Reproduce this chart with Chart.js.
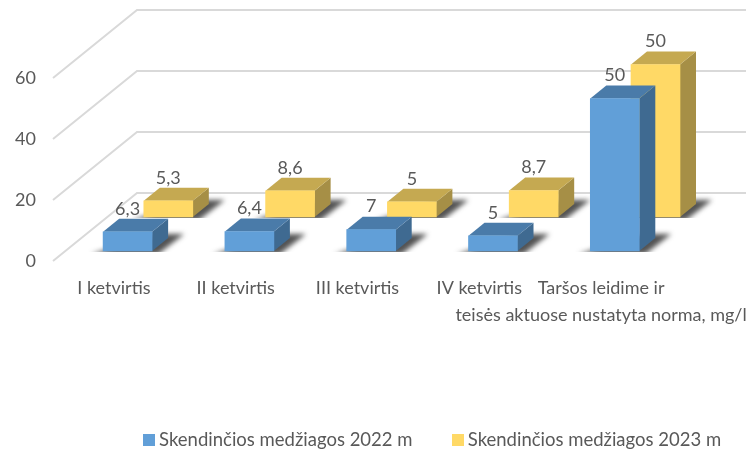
<!DOCTYPE html>
<html><head><meta charset="utf-8">
<style>html,body{margin:0;padding:0;background:#fff}#w{width:753px;height:452px}</style>
<script src="https://cdn.jsdelivr.net/npm/chart.js@4"></script></head>
<body><div id="w"><canvas id="c"></canvas></div>
<script>
const categories=["I ketvirtis","II ketvirtis","III ketvirtis","IV ketvirtis",["Taršos leidime ir","teisės aktuose nustatyta norma, mg/l"]];
const series2022=[6.3,6.4,7,5,50];
const series2023=[5.3,8.6,5,8.7,50];
const seriesNames=["Skendinčios medžiagos 2022 m","Skendinčios medžiagos 2023 m"];
const yMax=60, yStep=20;
const FONT='Lato', TXT='#595959';
// projection of the fake 3D box
const wall={dx:84,dy:-68}, barDepth={dx:16,dy:-13};
const placement=[{dx:13.7,dy:-10},{dx:54.4,dy:-44}];
const faces=[{top:'#4A7BA9',side:'#3F6A91',front:'#619FD8'},{top:'#C5A951',side:'#A68F46',front:'#FFD966'}];

function swatch(color){const k=document.createElement('canvas');k.width=12;k.height=12;const g=k.getContext('2d');g.fillStyle=color;g.fillRect(0,0,12,12);return k;}

const scene={id:'scene',
 beforeDatasetsDraw(ch){
  const {ctx,scales:{y},chartArea:a}=ch;
  ctx.save();ctx.strokeStyle='#D9D9D9';ctx.lineWidth=2;
  for(let v=0;v<=yMax;v+=yStep){const p=y.getPixelForValue(v);
   ctx.beginPath();ctx.moveTo(a.left,p);ctx.lineTo(a.left+wall.dx,p+wall.dy);ctx.lineTo(a.right+wall.dx,p+wall.dy);ctx.stroke();}
  ctx.restore();
  ch.data.datasets.forEach((d,i)=>{const o=placement[i];
   ch.getDatasetMeta(i).data.forEach(b=>{
    const l=b.x-b.width/2+o.dx,r=b.x+b.width/2+o.dx,base=y.getPixelForValue(0)+o.dy;
    ctx.save();ctx.beginPath();ctx.rect(0,0,ch.width,base+1);ctx.clip();
    ctx.filter='blur(2.5px)';ctx.fillStyle='rgba(40,40,40,0.8)';
    ctx.beginPath();ctx.moveTo(l-12,base+3);ctx.lineTo(r+6,base+3);ctx.lineTo(r+32,base-17);ctx.lineTo(r+6,base-17);ctx.closePath();ctx.fill();
    ctx.restore();
   });});
 },
 beforeDatasetDraw(ch,{index:i}){
  const {ctx}=ch,o=placement[i],f=faces[i];
  ctx.save();ctx.translate(o.dx,o.dy);
  ch.getDatasetMeta(i).data.forEach(b=>{
   const l=b.x-b.width/2,r=b.x+b.width/2,t=b.y,bt=b.base,dx=barDepth.dx,dy=barDepth.dy;
   ctx.fillStyle=f.side;ctx.beginPath();ctx.moveTo(r,t);ctx.lineTo(r+dx,t+dy);ctx.lineTo(r+dx,bt+dy);ctx.lineTo(r,bt);ctx.closePath();ctx.fill();
   ctx.fillStyle=f.top;ctx.beginPath();ctx.moveTo(l,t);ctx.lineTo(l+dx,t+dy);ctx.lineTo(r+dx,t+dy);ctx.lineTo(r,t);ctx.closePath();ctx.fill();
  });
 },
 afterDatasetDraw(ch){ch.ctx.restore();},
 afterDatasetsDraw(ch){
  const {ctx}=ch;ctx.save();ctx.font='18px '+FONT;ctx.fillStyle=TXT;ctx.textAlign='center';ctx.textBaseline='middle';
  ch.data.datasets.forEach((d,i)=>{const o=placement[i];
   ch.getDatasetMeta(i).data.forEach((b,j)=>{
    ctx.fillText(String(d.data[j]).replace('.',','),b.x+o.dx,b.y+o.dy-23);});});
  ctx.restore();
 }};

new Chart(document.getElementById('c'),{type:'bar',
 data:{labels:categories,datasets:[
  {label:seriesNames[0],data:series2022,backgroundColor:faces[0].front,order:1,clip:false},
  {label:seriesNames[1],data:series2023,backgroundColor:faces[1].front,order:2,clip:false}]},
 options:{responsive:true,maintainAspectRatio:false,animation:false,
  layout:{padding:{top:78,left:0,right:-117,bottom:-7}},
  datasets:{bar:{grouped:false,barThickness:49}},
  plugins:{tooltip:{enabled:false},
   legend:{position:'bottom',labels:{usePointStyle:true,pointStyleWidth:1,boxHeight:12,padding:45,color:TXT,font:{family:FONT,size:18.5},
    generateLabels(ch){return Chart.defaults.plugins.legend.labels.generateLabels(ch).map((it,i)=>({...it,pointStyle:swatch(faces[i].front)}));}}}},
  scales:{
   x:{offset:true,grid:{display:false},border:{display:false},
    ticks:{autoSkip:false,maxRotation:0,minRotation:0,padding:6,color:TXT,font:{family:FONT,size:18,lineHeight:1.5}},
    afterFit(s){s.height=191-s.chart.legend.height+7;s.paddingLeft=0;s.paddingRight=0;}},
   y:{min:0,max:yMax,grid:{display:false},border:{display:false},
    ticks:{stepSize:yStep,padding:9,color:TXT,font:{family:FONT,size:18}},
    afterFit(s){s.width=53;s.paddingTop=0;s.paddingBottom=0;}},
   yRight:{position:'right',min:0,max:1,grid:{display:false},border:{display:false},ticks:{display:false},afterFit(s){s.width=208;}}
  }},
 plugins:[scene]});
</script></body></html>
